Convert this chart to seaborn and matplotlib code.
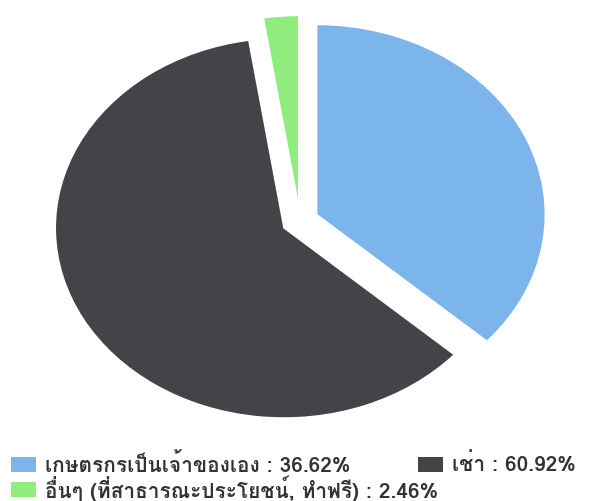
import matplotlib
matplotlib.use("Agg")
import matplotlib.pyplot as plt
import seaborn as sns
from matplotlib import font_manager
from matplotlib.ft2font import FT2Font
from matplotlib.patches import Rectangle

labels = [
    "เกษตรกรเป็นเจ้าของเอง",
    "เช่า",
    "อื่นๆ (ที่สาธารณะประโยชน์, ทำฟรี)",
]
shares = [36.62, 60.92, 2.46]
colors = ["#7cb5ec", "#434348", "#90ed7d"]


def find_thai_font():
    # the listed families have no Thai glyphs, so look for any installed font that does
    found = []
    for f in font_manager.fontManager.ttflist:
        try:
            if 0x0E01 in FT2Font(f.fname).get_charmap():
                found.append((f.name, f.weight))
        except Exception:
            pass
    for name, weight in found:
        if weight in ("bold", 700):
            return name
    if found:
        return found[0][0]
    return "DejaVu Sans"


sns.set_theme(style="white")
thai_font = find_thai_font()
plt.rcParams["font.family"] = [thai_font, "DejaVu Sans"]

fig = plt.figure(figsize=(5.9, 5.01), dpi=100)
ax = fig.add_axes([0, 0, 1, 1])

ax.pie(
    shares,
    colors=colors,
    startangle=90,
    counterclock=False,
    explode=[0.08, 0.08, 0.08],
    wedgeprops={"edgecolor": "white", "linewidth": 1},
)
ax.set_aspect("auto")
ax.set_xlim(-300 / 228.6, 290 / 228.6)
ax.set_ylim((220.7 - 501) / 190, 220.7 / 190)
ax.axis("off")

# legend laid out like the original (two items on row one, one on row two)
W, H = 590, 501
items = [
    (0, 11, 464),
    (1, 418, 464),
    (2, 11, 489),
]
for idx, x0, yc in items:
    fig.patches.append(
        Rectangle((x0 / W, 1 - (yc + 7.5) / H), 25 / W, 15 / H,
                  transform=fig.transFigure, facecolor=colors[idx], edgecolor="none")
    )
    fig.text((x0 + 34) / W, 1 - yc / H, f"{labels[idx]} : {shares[idx]:.2f}%",
             fontsize=15, fontweight="bold", color="#333333", va="center", ha="left")

fig.savefig("out.png", dpi=100)
